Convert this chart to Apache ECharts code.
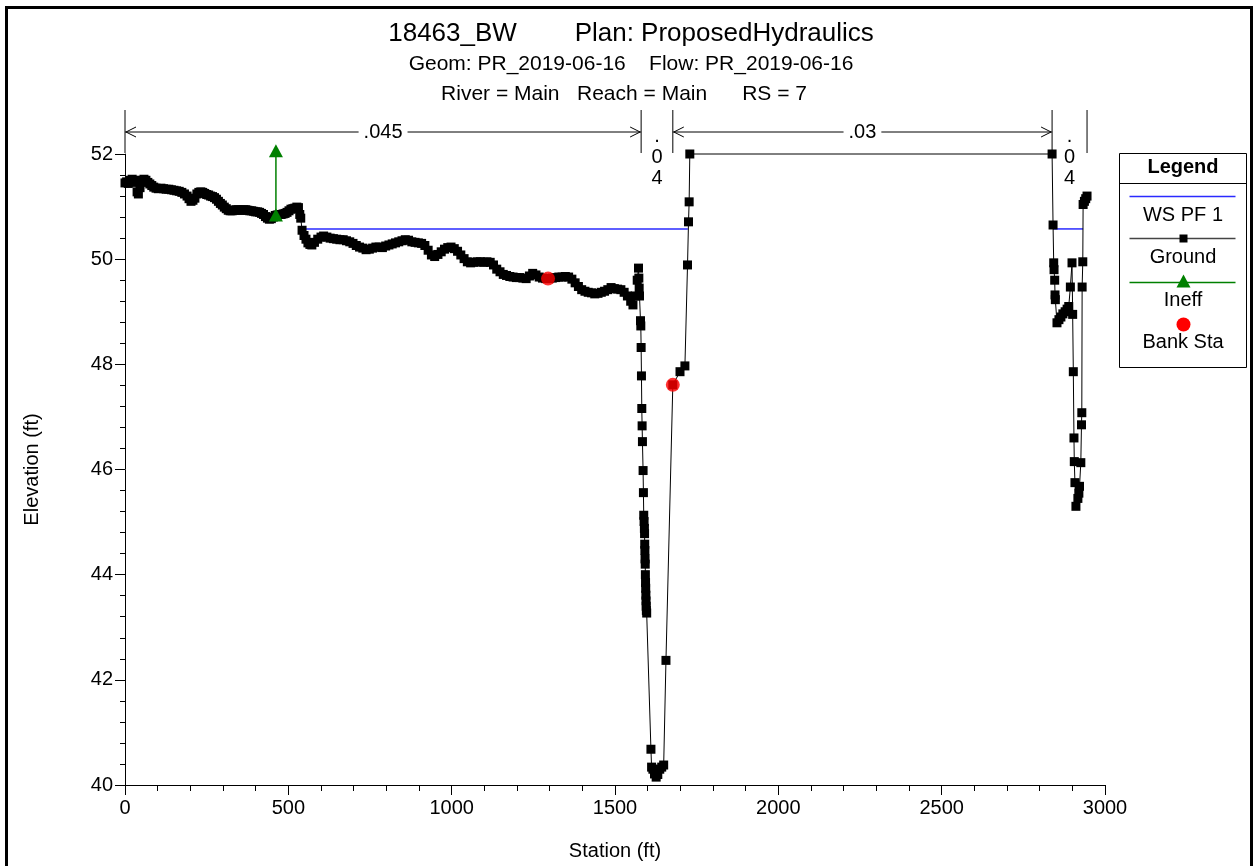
<!DOCTYPE html>
<html><head><meta charset="utf-8">
<script src="https://cdn.jsdelivr.net/npm/echarts@6/dist/echarts.min.js"></script>
<style>html,body{margin:0;padding:0;background:#fff}#c{width:1255px;height:866px}</style>
</head><body><div id="c"></div>
<script>
const FONT = "'Liberation Sans', Arial, Helvetica, sans-serif";
const titleLines = [
  '18463_BW        Plan: ProposedHydraulics',
  'Geom: PR_2019-06-16    Flow: PR_2019-06-16',
  'River = Main   Reach = Main      RS = 7'
];
const xAxisName = 'Station (ft)';
const yAxisName = 'Elevation (ft)';
const xTicks = { min: 0, max: 3000, interval: 500 };
const yTicks = { min: 40, max: 52, interval: 2 };

const groundLeft = [
  [0,51.45],[5,51.47],[10,51.44],[16,51.50],[22,51.52],[28,51.50],[33,51.46],[37,51.28],[41,51.24],[46,51.36],
  [52,51.50],[58,51.52],[64,51.50],[70,51.46],[76,51.43],[82,51.40],[88,51.37],[95,51.35],[102,51.34],[110,51.35],
  [118,51.34],[126,51.33],[134,51.33],[142,51.32],[150,51.31],[158,51.30],[166,51.29],[174,51.27],[182,51.24],[190,51.20],
  [196,51.15],[202,51.10],[208,51.12],[214,51.16],[220,51.24],[226,51.27],[232,51.28],[238,51.27],[244,51.25],[250,51.23],
  [256,51.22],[262,51.20],[268,51.19],[274,51.17],[280,51.14],[286,51.10],[292,51.06],[298,51.03],[304,50.99],[310,50.96],
  [316,50.93],[322,50.92],[328,50.92],[334,50.93],[340,50.94],[346,50.94],[352,50.93],[358,50.93],[364,50.94],[370,50.94],
  [376,50.93],[382,50.92],[388,50.92],[394,50.91],[400,50.90],[406,50.90],[412,50.89],[418,50.87],[424,50.85],[430,50.81],
  [436,50.78],[442,50.76],[448,50.77],[454,50.80],[460,50.83],[466,50.84],[472,50.85],[478,50.85],[484,50.86],[490,50.87],
  [496,50.89],[502,50.92],[508,50.95],[514,50.96],[520,50.97],[526,50.99],[531,50.98],[535,50.85],[538,50.78],[542,50.55],
  [548,50.45],[554,50.38],[560,50.31],[566,50.28],[572,50.27],[580,50.32],[590,50.38],[600,50.42],[608,50.44],[618,50.42],
  [628,50.40],[638,50.39],[648,50.38],[658,50.37],[668,50.37],[678,50.35],[688,50.33],[698,50.30],[708,50.26],[718,50.23],
  [728,50.21],[738,50.18],[748,50.19],[758,50.21],[768,50.23],[778,50.23],[788,50.22],[798,50.25],[808,50.27],[818,50.29],
  [828,50.31],[838,50.33],[848,50.35],[858,50.37],[868,50.36],[878,50.33],[888,50.32],[898,50.31],[908,50.30],[918,50.26],
  [928,50.17],[938,50.08],[948,50.05],[958,50.09],[968,50.14],[978,50.19],[988,50.22],[998,50.23],[1008,50.20],[1018,50.15],
  [1028,50.08],[1038,50.01],[1048,49.95],[1058,49.93],[1068,49.94],[1078,49.95],[1088,49.95],[1098,49.94],[1108,49.95],[1118,49.94],
  [1128,49.89],[1138,49.81],[1148,49.76],[1158,49.71],[1168,49.69],[1178,49.67],[1188,49.66],[1198,49.65],[1208,49.65],[1218,49.64],
  [1228,49.63],[1238,49.68],[1248,49.73],[1258,49.70],[1268,49.66],[1278,49.64],[1288,49.63],[1298,49.63],[1308,49.64],[1318,49.65],
  [1328,49.66],[1338,49.66],[1348,49.67],[1358,49.66],[1368,49.62],[1378,49.55],[1388,49.48],[1398,49.42],[1408,49.39],[1418,49.37],
  [1428,49.36],[1438,49.34],[1448,49.35],[1458,49.37],[1468,49.39],[1478,49.42],[1488,49.46],[1498,49.44],[1508,49.43],[1518,49.42],
  [1528,49.37],[1538,49.30],[1548,49.20],[1555,49.13],[1562,49.30],[1568,49.60],[1572,49.83]
];
const groundChannel = [
  [1573,49.64],[1574,49.45],[1575,49.30],[1578,48.83],[1579,48.73],[1580,48.32],[1581,47.78],[1582,47.16],[1583,46.83],[1584,46.53],
  [1586,45.98],[1587,45.56],[1588,45.13],[1589,45.01],[1590,44.88],[1590.5,44.78],[1591,44.58],[1591.5,44.46],[1592,44.30],[1592.5,44.20],
  [1593,44.00],[1593.5,43.85],[1594,43.74],[1594.5,43.61],[1595,43.50],[1595.5,43.40],[1596,43.32],[1597,43.27],
  [1610,40.68],[1612,40.34],[1616,40.30],[1621,40.21],[1626,40.15],[1631,40.20],[1637,40.30],[1643,40.34],[1649,40.38],
  [1656,42.37],[1677,47.61],[1699,47.86],[1714,47.97],[1722,49.89],[1725,50.71],[1727,51.09],[1729,52.00]
];
const groundRight = [
  [2838,52.00],[2841,50.65],[2843,49.93],[2844,49.80],[2846,49.60],[2847,49.32],[2848,49.23],[2853,48.79],[2859,48.85],[2865,48.90],
  [2871,48.96],[2878,49.00],[2884,49.05],[2889,49.10],[2894,49.47],[2899,49.93],[2901,48.95],[2903,47.86],[2905,46.60],[2906,46.15],
  [2908,45.75],[2911,45.30],[2917,45.45],[2920,45.55],[2922,45.68],[2926,46.13],[2928,46.85],[2929,47.08],[2930,49.47],[2932,49.95],
  [2933,51.04],[2937,51.10],[2941,51.15],[2945,51.20]
];
const wsLeft = [[542,50.575],[1723,50.575]];
const wsRight = [[2841,50.575],[2933,50.575]];
const ineff = [[462,50.84],[462,52.06]];
const bankSta = [[1295,49.63],[1677,47.61]];
const nBreaks = [0,1580,1677,2838,2945];
const nValues = ['.045','.04','.03','.04'];
const legendNames = ['WS PF 1','Ground','Ineff','Bank Sta'];

const ground = groundLeft.concat(groundChannel, groundRight);
const nSegments = nValues.map((v, i) => [nBreaks[i], nBreaks[i+1], i]);

const chart = echarts.init(document.getElementById('c'), null, {renderer: 'canvas'});

function renderN(params, api) {
  const s = api.value(0), e = api.value(1), i = api.value(2);
  const p0 = api.coord([s, yTicks.max]);
  const p1 = api.coord([e, yTicks.max]);
  const yTop = p0[1] - 44, yBot = p0[1] - 1, yArr = p0[1] - 22;
  const st = {stroke: '#000', lineWidth: 1, fill: null};
  const ch = [];
  ch.push({type: 'line', shape: {x1: p0[0], y1: yTop, x2: p0[0], y2: yBot}, style: st});
  if (i === nValues.length - 1) {
    ch.push({type: 'line', shape: {x1: p1[0], y1: yTop, x2: p1[0], y2: yBot}, style: st});
  }
  const w = p1[0] - p0[0];
  const mid = (p0[0] + p1[0]) / 2;
  const label = nValues[i];
  if (w > 80) {
    ch.push({type: 'line', shape: {x1: p0[0], y1: yArr, x2: p1[0], y2: yArr}, style: st});
    ch.push({type: 'polyline', shape: {points: [[p0[0]+11, yArr-5],[p0[0]+1, yArr],[p0[0]+11, yArr+5]]}, style: st});
    ch.push({type: 'polyline', shape: {points: [[p1[0]-11, yArr-5],[p1[0]-1, yArr],[p1[0]-11, yArr+5]]}, style: st});
    ch.push({type: 'text', x: mid, y: yArr, style: {text: label, fill: '#000', font: '20px ' + FONT,
      align: 'center', verticalAlign: 'middle', backgroundColor: '#fff', padding: [0, 5]}});
  } else {
    ch.push({type: 'text', x: mid, y: p0[1] - 28, style: {text: label.split('').join('\n'), fill: '#000',
      font: '20px ' + FONT, align: 'center', verticalAlign: 'top', lineHeight: 21}});
  }
  return {type: 'group', children: ch};
}

// legend (drawn as graphic, HEC-RAS style: symbol above name)
const LX = 1117, LY = 153, LW = 127, LH = 214;
const legendChildren = [
  {type: 'rect', shape: {x: 0, y: 0, width: LW, height: LH}, style: {fill: '#fff', stroke: '#000', lineWidth: 1}},
  {type: 'line', shape: {x1: 0, y1: 30, x2: LW, y2: 30}, style: {stroke: '#000', lineWidth: 1}},
  {type: 'text', x: LW/2, y: 14, style: {text: 'Legend', font: 'bold 20px ' + FONT, fill: '#000', align: 'center', verticalAlign: 'middle'}},
  {type: 'line', shape: {x1: 10, y1: 43, x2: 116, y2: 43}, style: {stroke: '#2a2aff', lineWidth: 1.5}},
  {type: 'text', x: LW/2, y: 62, style: {text: legendNames[0], font: '20px ' + FONT, fill: '#000', align: 'center', verticalAlign: 'middle'}},
  {type: 'line', shape: {x1: 10, y1: 85, x2: 116, y2: 85}, style: {stroke: '#444', lineWidth: 1.5}},
  {type: 'rect', shape: {x: 60, y: 81, width: 8, height: 8}, style: {fill: '#000'}},
  {type: 'text', x: LW/2, y: 104, style: {text: legendNames[1], font: '20px ' + FONT, fill: '#000', align: 'center', verticalAlign: 'middle'}},
  {type: 'line', shape: {x1: 10, y1: 129, x2: 116, y2: 129}, style: {stroke: '#008000', lineWidth: 1.5}},
  {type: 'polygon', shape: {points: [[64,121],[57,134],[71,134]]}, style: {fill: '#008000'}},
  {type: 'text', x: LW/2, y: 147, style: {text: legendNames[2], font: '20px ' + FONT, fill: '#000', align: 'center', verticalAlign: 'middle'}},
  {type: 'circle', shape: {cx: 64, cy: 171, r: 7}, style: {fill: '#ff0000'}},
  {type: 'text', x: LW/2, y: 189, style: {text: legendNames[3], font: '20px ' + FONT, fill: '#000', align: 'center', verticalAlign: 'middle'}}
];

const option = {
  animation: false,
  backgroundColor: '#fff',
  textStyle: {fontFamily: FONT},
  title: [
    {text: titleLines[0], left: 626, top: 16, textAlign: 'center', textStyle: {fontSize: 26, fontWeight: 'normal', color: '#000', fontFamily: FONT}},
    {text: titleLines[1], left: 626, top: 49, textAlign: 'center', textStyle: {fontSize: 21, fontWeight: 'normal', color: '#000', fontFamily: FONT}},
    {text: titleLines[2], left: 619, top: 79, textAlign: 'center', textStyle: {fontSize: 21, fontWeight: 'normal', color: '#000', fontFamily: FONT}}
  ],
  grid: {left: 125, right: 150, top: 154, bottom: 80, containLabel: false},
  xAxis: {
    type: 'value', min: xTicks.min, max: xTicks.max, interval: xTicks.interval,
    name: xAxisName, nameLocation: 'middle', nameGap: 56,
    nameTextStyle: {fontSize: 20, color: '#000', fontFamily: FONT},
    axisLine: {show: true, onZero: false, lineStyle: {color: '#000', width: 1}},
    axisTick: {show: true, inside: false, length: 10, lineStyle: {color: '#000'}},
    minorTick: {show: true, splitNumber: 5, length: 6, lineStyle: {color: '#000'}},
    axisLabel: {fontSize: 20, color: '#000', margin: 13, fontFamily: FONT, formatter: v => String(v)},
    splitLine: {show: false}
  },
  yAxis: {
    type: 'value', min: yTicks.min, max: yTicks.max, interval: yTicks.interval,
    name: yAxisName, nameLocation: 'middle', nameGap: 83, nameRotate: 90,
    nameTextStyle: {fontSize: 20, color: '#000', fontFamily: FONT},
    axisLine: {show: true, onZero: false, lineStyle: {color: '#000', width: 1}},
    axisTick: {show: true, inside: false, length: 10, lineStyle: {color: '#000'}},
    minorTick: {show: true, splitNumber: 5, length: 5, lineStyle: {color: '#000'}},
    axisLabel: {fontSize: 20, color: '#000', margin: 12, fontFamily: FONT, formatter: v => String(v)},
    splitLine: {show: false}
  },
  series: [
    {name: 'WS PF 1', type: 'line', data: wsLeft, showSymbol: false, symbol: 'none', clip: false,
      lineStyle: {color: '#2a2aff', width: 1.5}, z: 2},
    {name: 'WS PF 1', type: 'line', data: wsRight, showSymbol: false, symbol: 'none', clip: false,
      lineStyle: {color: '#2a2aff', width: 1.5}, z: 2},
    {name: 'Ground', type: 'line', data: ground, symbol: 'rect', symbolSize: 9, showAllSymbol: true, clip: false,
      itemStyle: {color: '#000'}, lineStyle: {color: '#000', width: 1}, z: 3},
    {name: 'Ineff', type: 'line', data: ineff, symbol: 'triangle', symbolSize: [14, 13], clip: false,
      itemStyle: {color: '#008000'}, lineStyle: {color: '#008000', width: 1.5}, z: 4},
    {name: 'Bank Sta', type: 'scatter', data: bankSta, symbol: 'circle', symbolSize: 14, clip: false,
      itemStyle: {color: '#ff0000'}, z: 5},
    {name: 'n', type: 'custom', data: nSegments, renderItem: renderN, clip: false, silent: true, z: 6}
  ],
  graphic: [
    {type: 'rect', left: 5, top: 6, shape: {width: 1245, height: 880}, style: {fill: 'transparent', stroke: '#000', lineWidth: 3}, z: 100, silent: true},
    {type: 'group', left: LX, top: LY, children: legendChildren, z: 50}
  ]
};
chart.setOption(option);
</script></body></html>
